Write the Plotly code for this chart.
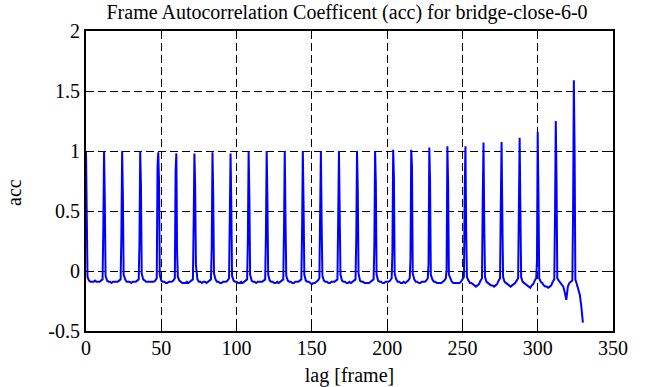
import plotly.graph_objects as go

# sample offsets within each 12-lag period (half-frame samples around the peaks)
period = 12
offsets = [0, 0.5, 1, 2, 3, 4, 5, 6, 7, 8, 9, 10, 11, 11.5]

# acc values per period: peak, post, baseline (lags +1..+11), pre-peak
acc_rows = [
    [1.00, 0.54, -0.05, -0.08, -0.09, -0.09, -0.09, -0.08, -0.09, -0.09, -0.09, -0.08, -0.07, 0.36],
    [1.00, 0.58, -0.04, -0.08, -0.09, -0.09, -0.10, -0.09, -0.09, -0.09, -0.09, -0.08, -0.07, 0.30],
    [1.00, 0.62, -0.03, -0.07, -0.09, -0.09, -0.09, -0.10, -0.09, -0.09, -0.09, -0.08, -0.07, 0.23],
    [1.00, 0.70, -0.02, -0.07, -0.08, -0.09, -0.09, -0.09, -0.09, -0.09, -0.09, -0.08, -0.06, 0.87],
    [0.99, 0.74, -0.03, -0.08, -0.09, -0.09, -0.10, -0.10, -0.09, -0.09, -0.09, -0.08, -0.06, 0.83],
    [0.98, 0.15, -0.05, -0.08, -0.09, -0.10, -0.10, -0.10, -0.09, -0.10, -0.09, -0.08, -0.07, 0.40],
    [0.98, 0.70, 0.05, -0.07, -0.09, -0.09, -0.10, -0.09, -0.09, -0.10, -0.09, -0.08, -0.07, 0.20],
    [0.99, 0.62, -0.02, -0.07, -0.09, -0.09, -0.10, -0.10, -0.09, -0.09, -0.09, -0.08, -0.06, 0.45],
    [0.98, 0.55, -0.04, -0.08, -0.09, -0.09, -0.10, -0.10, -0.09, -0.10, -0.09, -0.08, -0.07, 0.25],
    [1.00, 0.62, -0.03, -0.08, -0.09, -0.09, -0.10, -0.09, -0.09, -0.09, -0.09, -0.08, -0.07, 0.30],
    [1.00, 0.58, -0.03, -0.08, -0.09, -0.09, -0.10, -0.10, -0.09, -0.10, -0.09, -0.08, -0.07, 0.35],
    [1.00, 0.44, -0.04, -0.08, -0.09, -0.09, -0.10, -0.10, -0.09, -0.09, -0.09, -0.08, -0.07, 0.33],
    [1.00, 0.55, -0.03, -0.08, -0.09, -0.09, -0.10, -0.11, -0.10, -0.10, -0.09, -0.08, -0.06, 0.42],
    [1.00, 0.40, -0.04, -0.08, -0.09, -0.09, -0.10, -0.10, -0.09, -0.09, -0.09, -0.08, -0.07, 0.45],
    [1.00, 0.47, -0.03, -0.08, -0.09, -0.09, -0.10, -0.10, -0.09, -0.10, -0.09, -0.08, -0.07, 0.28],
    [1.00, 0.67, -0.02, -0.08, -0.09, -0.09, -0.10, -0.10, -0.10, -0.10, -0.09, -0.08, -0.07, 0.20],
    [1.00, 0.73, -0.03, -0.08, -0.09, -0.09, -0.10, -0.10, -0.09, -0.09, -0.09, -0.08, -0.06, 0.16],
    [1.01, 0.78, -0.02, -0.07, -0.09, -0.09, -0.10, -0.10, -0.09, -0.10, -0.09, -0.08, -0.06, 0.10],
    [1.01, 0.87, -0.02, -0.07, -0.09, -0.09, -0.10, -0.10, -0.09, -0.09, -0.09, -0.08, -0.06, 0.06],
    [1.03, 0.75, -0.03, -0.07, -0.09, -0.09, -0.10, -0.10, -0.10, -0.10, -0.09, -0.08, -0.06, 0.02],
    [1.04, 0.72, -0.03, -0.07, -0.09, -0.10, -0.10, -0.10, -0.10, -0.10, -0.09, -0.07, -0.05, 0.66],
    [1.04, 0.32, -0.05, -0.08, -0.10, -0.10, -0.11, -0.12, -0.13, -0.12, -0.11, -0.08, -0.06, 0.62],
    [1.07, 0.37, -0.05, -0.09, -0.10, -0.11, -0.12, -0.12, -0.13, -0.12, -0.11, -0.08, -0.06, 0.56],
    [1.075, 0.47, -0.05, -0.09, -0.10, -0.11, -0.12, -0.13, -0.12, -0.11, -0.10, -0.08, -0.06, 0.52],
    [1.11, 0.50, -0.05, -0.09, -0.10, -0.11, -0.12, -0.13, -0.14, -0.12, -0.11, -0.08, -0.06, 0.08],
    [1.16, 0.63, -0.06, -0.09, -0.10, -0.12, -0.13, -0.13, -0.14, -0.13, -0.12, -0.09, -0.07, 0.47],
    [1.25, 0.75, -0.06, -0.08, -0.10, -0.11, -0.13, -0.18, -0.24, -0.13, -0.10, -0.09, -0.08, 0.51],
    [1.59, 1.00, -0.07, -0.11, -0.15, -0.20, -0.30, -0.43],
]

x_ticks = [0, 50, 100, 150, 200, 250, 300, 350]
y_ticks = [-0.5, 0, 0.5, 1, 1.5, 2]
y_tick_labels = ["-0.5", "0", "0.5", "1", "1.5", "2"]

lag, acc = [], []
for r, row in enumerate(acc_rows):
    for off, v in zip(offsets, row):
        lag.append(r * period + off)
        acc.append(v)

font_family = "Liberation Serif, Times New Roman, serif"
fs = 20

fig = go.Figure()
fig.add_trace(go.Scatter(x=lag, y=acc, mode="lines",
                         line=dict(color="#0000FF", width=2)))

axis_common = dict(
    showline=True, linecolor="black", linewidth=2, mirror="ticks",
    ticks="inside", ticklen=5, tickcolor="black", tickwidth=1,
    showgrid=True, gridcolor="black", gridwidth=1, griddash="8px,4px",
    zeroline=False, automargin=False,
    tickfont=dict(family=font_family, size=fs, color="black"),
)

fig.update_xaxes(range=[0, 350], tickvals=x_ticks,
                 ticktext=[str(t) for t in x_ticks],
                 ticklabelstandoff=-2,
                 title=dict(text="lag [frame]", standoff=11,
                            font=dict(family=font_family, size=fs, color="black")),
                 **axis_common)
fig.update_yaxes(range=[-0.5, 2], tickvals=y_ticks, ticktext=y_tick_labels,
                 **axis_common)

fig.update_layout(
    width=656, height=387,
    margin=dict(l=86, r=43, t=31, b=56),
    paper_bgcolor="white", plot_bgcolor="white",
    showlegend=False,
    title=dict(text="Frame Autocorrelation Coefficent (acc) for bridge-close-6-0",
               x=0.529, xanchor="center", xref="container",
               y=0.969, yanchor="middle", yref="container",
               font=dict(family=font_family, size=20, color="black")),
    annotations=[dict(text="acc", textangle=-90, xref="paper", yref="paper",
                      x=-0.137, y=0.463, xanchor="center", yanchor="middle",
                      showarrow=False,
                      font=dict(family=font_family, size=fs, color="black"))],
)

# drop the browser's default 8px body margin so the figure sits at the page origin
fig.write_html("out.html", config={"displayModeBar": False},
               post_script="document.body.style.margin='0';")
